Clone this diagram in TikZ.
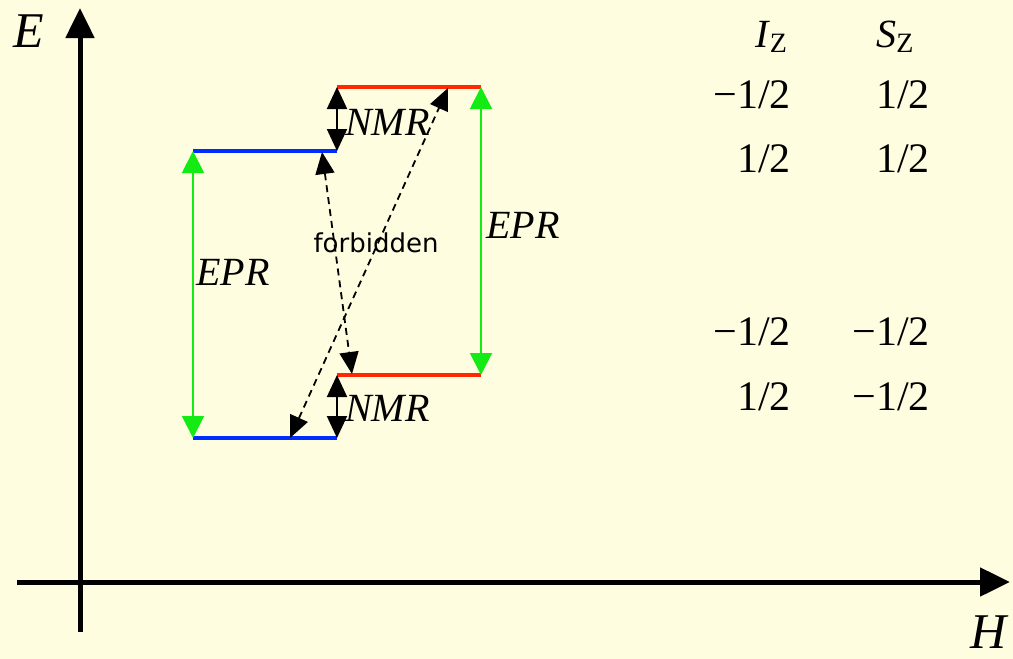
\documentclass[tikz,border=0pt]{standalone}
\usepackage{fontspec}
\setmainfont{Liberation Serif}
\newfontfamily\sansf{DejaVu Sans}
\usetikzlibrary{arrows.meta}
\definecolor{bgc}{RGB}{255,253,224}
\definecolor{lvblue}{RGB}{0,45,255}
\definecolor{lvred}{RGB}{255,40,0}
\definecolor{eprgreen}{RGB}{20,235,20}
\tikzset{
  axis/.style={line width=5pt,-{Triangle[width=28pt,length=30pt]}},
  bluelevel/.style={line width=4pt,lvblue},
  redlevel/.style={line width=4pt,lvred},
  eprarrow/.style={line width=2pt,eprgreen,{Triangle[width=22pt,length=22pt]}-{Triangle[width=22pt,length=22pt]}},
  nmrarrow/.style={line width=2pt,black,{Triangle[width=20pt,length=22pt]}-{Triangle[width=20pt,length=22pt]}},
  forbarrow/.style={line width=1.8pt,black,dash pattern=on 7pt off 5pt,{Triangle[width=19pt,length=22pt]}-{Triangle[width=19pt,length=22pt]}},
  biglabel/.style={font=\fontsize{50}{50}\selectfont\itshape,inner sep=0pt},
  translabel/.style={font=\fontsize{40}{40}\selectfont\itshape,inner sep=0pt},
  numlabel/.style={font=\fontsize{42}{42}\selectfont,inner sep=0pt,anchor=base east},
  headlabel/.style={font=\fontsize{40}{40}\selectfont,inner sep=0pt,anchor=base},
  forblabel/.style={font=\sansf\fontsize{26}{26}\selectfont,inner sep=0pt}
}
\begin{document}
\begin{tikzpicture}[x=1pt,y=-1pt]
\fill[bgc] (0,0) rectangle (1013,659);
\useasboundingbox (0,0) rectangle (1013,659);
% axes
\coordinate (ybot) at (80,632);
\coordinate (ytop) at (80,8);
\coordinate (xleft) at (17,582);
\coordinate (xright) at (1010,582);
\draw[axis] (ybot) -- (ytop);
\draw[axis] (xleft) -- (xright);
\node[biglabel,anchor=base] (E) at (29,47) {E};
\node[biglabel,anchor=base] (H) at (989,648) {H};
% levels
\coordinate (b1l) at (193,151);
\coordinate (b1r) at (337,151);
\coordinate (r1l) at (337,87);
\coordinate (r1r) at (481,87);
\coordinate (r2l) at (337,375);
\coordinate (r2r) at (481,375);
\coordinate (b2l) at (193,438);
\coordinate (b2r) at (337,438);
\draw[bluelevel] (b1l) -- (b1r);
\draw[redlevel] (r1l) -- (r1r);
\draw[redlevel] (r2l) -- (r2r);
\draw[bluelevel] (b2l) -- (b2r);
% EPR
\draw[eprarrow] (b1l) -- (b2l);
\draw[eprarrow] (r1r) -- (r2r);
\node[translabel] (epr1) at (233,272) {EPR};
\node[translabel] (epr2) at (523,225) {EPR};
% NMR
\draw[nmrarrow] (r1l) -- (b1r);
\draw[nmrarrow] (r2l) -- (b2r);
\node[translabel,anchor=west] (nmr1) at (345,122) {NMR};
\node[translabel,anchor=west] (nmr2) at (345,408) {NMR};
% forbidden
\coordinate (f1a) at (290,438);
\coordinate (f1b) at (448,88);
\coordinate (f2a) at (322,152);
\coordinate (f2b) at (352,374);
\draw[forbarrow] (f1a) -- (f1b);
\draw[forbarrow] (f2a) -- (f2b);
\node[forblabel] (forb) at (376,243) {forbidden};
% table
\node[headlabel] (Iz) at (771,47) {\textit{I}\raisebox{-0.3ex}{\fontsize{28}{28}\selectfont Z}};
\node[headlabel] (Sz) at (895,47) {\textit{S}\raisebox{-0.3ex}{\fontsize{28}{28}\selectfont Z}};
\node[numlabel] (a1) at (791,108) {−1/2};
\node[numlabel] (a2) at (930,108) {1/2};
\node[numlabel] (b1) at (791,172) {1/2};
\node[numlabel] (b2) at (930,172) {1/2};
\node[numlabel] (c1) at (791,345) {−1/2};
\node[numlabel] (c2) at (930,345) {−1/2};
\node[numlabel] (d1) at (791,410) {1/2};
\node[numlabel] (d2) at (930,410) {−1/2};
\end{tikzpicture}
\end{document}
